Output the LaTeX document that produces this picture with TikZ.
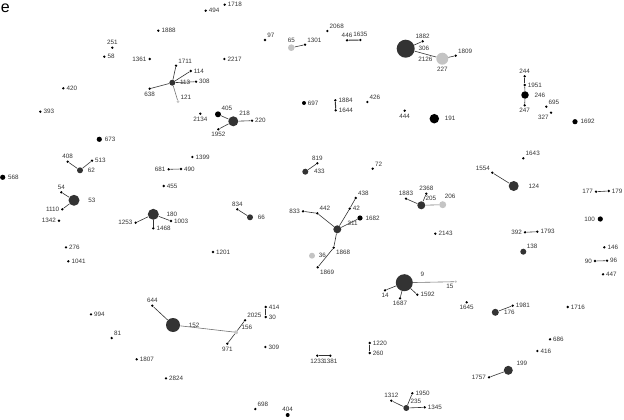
\documentclass[tikz,border=0pt]{standalone}
\usepackage{fontspec}
\setmainfont{Liberation Sans}
\usetikzlibrary{positioning}
\definecolor{hubgray}{HTML}{333333}
\definecolor{palegray}{HTML}{C4C4C4}
\tikzset{every picture/.style={line width=0.6pt}}

\begin{document}
\begin{tikzpicture}[x=1pt,y=-1pt,
    lbl/.style={font=\fontsize{6.3}{7}\selectfont, text=black!80, inner sep=0.3pt},
    every label/.style={lbl},
    sdot/.style={circle, fill=black, inner sep=0pt, minimum size=2.6pt},
    bdot/.style={circle, fill=black, inner sep=0pt, minimum size=#1},
    hub/.style={circle, fill=hubgray, inner sep=0pt, minimum size=#1},
    gdot/.style={circle, fill=palegray, inner sep=0pt, minimum size=#1},
    edge/.style={draw=hubgray, line width=0.6pt},
    pale edge/.style={draw=black!55, line width=0.6pt}]
    \useasboundingbox (0,0) rectangle (624,420);

    % 图号
    \node[anchor=base west, inner sep=0pt, font=\fontsize{16}{16}\selectfont] (panel) at (0.5,12.6) {e};

    % 小黑点
    \foreach \nm/\x/\y/\lp in {1718/224.7/4.7/right, 494/205.7/10.7/right, 1888/158.3/30.7/right,
        251/112.3/47.7/above, 58/104.3/56.7/right, 1361/149.7/59/left, 2217/224.3/59/right,
        97/265/40/above right, 1301/305/44.7/above right, 2068/327.3/31/above right,
        446/347/40.3/above, 1635/360.3/40/above, 1882/422.7/41.3/above, 1809/455.7/55.7/above right,
        420/63.3/88.3/right, 393/40.3/111.7/right, 1711/176/65.7/above right, 114/190.7/71/right,
        308/196/81.7/right, 638/149.7/88.7/below, 220/252/120.7/right, 1952/218.3/129.3/below,
        2134/200.3/113.7/below, 1884/335.3/100.3/right, 1644/335.7/110.3/right,
        426/367.3/102/above right, 444/404.7/110.7/below, 244/524.7/76.3/above,
        1951/524.7/85/right, 247/524.7/105.3/below, 695/546.3/106.7/above right,
        327/551/112.7/below left, 408/67.7/161.7/above, 513/92/160.7/right, 54/61.3/192.3/above,
        1110/62.3/209.3/left, 1342/59/220.7/left, 276/66/247.3/right, 1041/68.3/261.3/right,
        1253/135.7/222.7/left, 1003/171/221/right, 1468/153.3/228.3/right, 1399/192.3/157/right,
        681/168.7/169.3/left, 490/181/169/right, 455/163.7/186/right, 834/237.3/209.3/above,
        1201/213/252/right, 833/303/211.3/left, 819/317.3/163.3/above, 72/372.7/168.7/above right,
        438/355.7/198/above right, 42/349.7/208.7/right, 442/317.3/213.3/above right,
        1868/333.7/247.7/below right, 1869/317.7/267.3/below right, 1883/406/198.7/above,
        2368/426.3/193.7/above, 2143/435.3/233.7/right, 1643/523.3/158.3/above right,
        1554/492.3/172.7/above left, 177/596/191.7/left, 179/608.7/191/right, 392/525/232.3/left,
        1793/537.3/231.7/right, 146/604.3/247.3/right, 90/595/261/left, 96/607/260.7/right,
        447/603/274.3/right, 994/91/314.3/right, 81/111.7/338/above right, 1807/136.7/359.3/right,
        644/152.3/305.7/above, 2025/245/320.3/above right, 971/227.3/343.7/below,
        414/265.7/307/right, 30/265.7/317/right, 309/265.3/347/right, 2824/166/378.3/right,
        698/255.3/409/above right, 14/385/290.3/below, 1687/400/298.3/below, 1592/417.3/294.7/right,
        1645/466.7/302.3/below, 1220/369.7/343/right, 260/369.7/353/right, 1233/317.3/355.7/below,
        1381/330.3/355.7/below, 1312/391.3/400.7/above, 1950/412.3/393.3/right,
        1345/424.7/407.3/right, 1981/512.7/305.7/right, 1716/567.7/307/right,
        686/550/339.3/right, 416/537.3/351/right, 1757/489/377.3/left}
        \node[sdot, label/.expanded={[label distance=1pt]\lp:\nm}] (n\nm) at (\x,\y) {};

    % 较大的黑点
    \foreach \nm/\x/\y/\d/\lp/\ld in {673/99.3/139.3/5.2/right/2, 568/2.7/177.3/5.2/right/2,
        191/434.3/118.7/9.5/right/5, 246/525/95/7.5/right/5, 1692/575/121.7/5.2/right/2,
        100/600.3/219/5.2/left/2, 405/218/114.3/6/above right/1, 1682/360/218/5.2/right/2,
        697/304/103/4/right/1, 404/287.7/415/4/above/1}
        \node[bdot=\d pt, label/.expanded={[label distance=\ld pt]\lp:\nm}] (n\nm) at (\x,\y) {};

    % 深灰色的大节点
    \foreach \nm/\x/\y/\d/\lp/\ld in {113/172.3/82.7/6/right/4, 218/233.3/121.3/10/above right/2.5,
        306/405.7/48.7/18/right/3, 62/80/170.3/6/right/4, 53/74/200.3/11/right/8,
        180/153.3/214.3/11/right/7, 66/250/217.3/6/right/4, 433/305.3/171.7/6/right/5,
        311/337.3/229.3/8/20/6, 205/421.3/205.3/8/above right/1, 124/513.7/186/10/right/9,
        138/523.3/251.7/6/above right/1, 9/404.3/282.7/17/20/8, 152/173/325/14/right/8,
        176/495.3/312.3/7/right/4.5, 199/508.3/370.3/9/30/4, 235/406.3/408/6/above right/2}
        \node[hub=\d pt, label/.expanded={[label distance=\ld pt]\lp:\nm}] (n\nm) at (\x,\y) {};

    % 浅灰色节点
    \foreach \nm/\x/\y/\d/\lp/\ld in {65/291.3/47.7/6.6/above/1, 227/442.3/58.7/12/below/2,
        121/178/101.7/3/above right/1, 206/442.7/204.7/7/75/2, 36/312/255.7/6/right/3,
        156/236/332.3/4/20/3, 15/455.7/281.7/2.5/below left/1}
        \node[gdot=\d pt, label/.expanded={[label distance=\ld pt]\lp:\nm}] (n\nm) at (\x,\y) {};

    % 连线
    \foreach \a/\b in {1301/65, 306/1882, 227/1809, 1711/113, 114/113, 308/113, 638/113,
        405/218, 218/220, 1952/218, 244/1951, 1951/246, 246/247, 408/62, 62/513, 54/53,
        53/1110, 1253/180, 180/1003, 180/1468, 681/490, 834/66, 819/433, 833/442, 442/311,
        311/42, 42/438, 311/1682, 311/1868, 1868/1869, 1883/205, 2368/205, 1554/124,
        177/179, 392/1793, 90/96, 644/152, 156/2025, 156/971, 9/14, 9/1687, 9/1592,
        1312/235, 1950/235, 235/1345, 176/1981, 1757/199}
        \draw[edge] (n\a) -- (n\b);
    \foreach \a/\b in {446/1635, 1884/1644, 414/30, 1220/260, 1233/1381}
        \draw[edge, line width=1pt] (n\a) -- (n\b);
    \foreach \a/\b in {113/121, 205/206, 9/15, 152/156}
        \draw[pale edge] (n\a) -- (n\b);
    \draw[edge] (n306) -- (n227) node[lbl, midway, below=2pt] (l2126) {2126};
\end{tikzpicture}
\end{document}
